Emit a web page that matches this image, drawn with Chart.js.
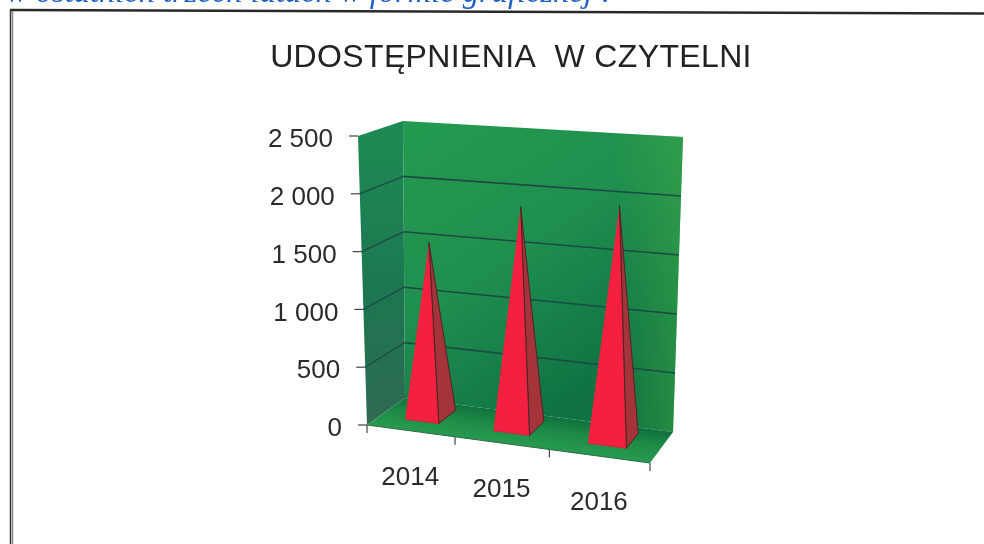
<!DOCTYPE html>
<html><head><meta charset="utf-8">
<style>
html,body{margin:0;padding:0;background:#fff;overflow:hidden}
#wrap{position:relative;width:984px;height:544px;overflow:hidden}
#note{position:absolute;left:6px;top:-27px;font:italic 32.5px "Liberation Serif",serif;color:#1f62c4;white-space:nowrap}
canvas{position:absolute;left:0;top:0}
</style>
<script src="https://cdn.jsdelivr.net/npm/chart.js@4/dist/chart.umd.min.js"></script>
</head><body>
<div id="wrap"><canvas id="c" width="984" height="544"></canvas><div id="note">w ostatnich trzech latach w formie graficznej :</div></div>
<script>
const chartTitle = 'UDOSTĘPNIENIA  W CZYTELNI';
const categories = ['2014', '2015', '2016'];
const udostepnienia = [1510, 1880, 1950];
const yTickLabels = ['0', '500', '1 000', '1 500', '2 000', '2 500'];

// 3D box outline used to project the flat scales onto the walls and the floor
const A=[367,425], B=[650,463], C=[673,432], D=[405,398];
const E=[358,136], H=[662,150], G=[683,137], F=[403,121];
const lerp=(p,q,t)=>[p[0]+(q[0]-p[0])*t,p[1]+(q[1]-p[1])*t];
const warp=u=>u+0.1*u*(u-1);
function P(u,v,d){
  const w=warp(u);
  const bot=lerp(lerp(A,B,w),lerp(D,C,w),d);
  const top=lerp(lerp(E,H,w),lerp(F,G,w),d);
  return lerp(bot,top,v);
}
const poly=(ctx,pts,fill,stroke,lw)=>{
  ctx.beginPath();pts.forEach((p,i)=>i?ctx.lineTo(p[0],p[1]):ctx.moveTo(p[0],p[1]));ctx.closePath();
  if(fill){ctx.fillStyle=fill;ctx.fill();}
  if(stroke){ctx.strokeStyle=stroke;ctx.lineWidth=lw||1;ctx.stroke();}
};
const line=(ctx,p,q,col,lw)=>{ctx.beginPath();ctx.moveTo(p[0],p[1]);ctx.lineTo(q[0],q[1]);ctx.strokeStyle=col;ctx.lineWidth=lw;ctx.stroke();};

let theChart=null;
const BASE_SHIFT=-0.002, D0=0.34, D1=0.82;
Chart.BarElement.prototype.draw=function(ctx){
  const a=theChart.chartArea, W=a.right-a.left, Hh=a.bottom-a.top;
  const uc=(this.x-a.left)/W+BASE_SHIFT, hw=this.width/2/W, v=(a.bottom-this.y)/Hh;
  const fl=P(uc-hw,0,D0), fr=P(uc+hw,0,D0), rr=P(uc+hw,0,D1), apex=P(uc,v,(D0+D1)/2);
  ctx.save();ctx.lineJoin='round';
  poly(ctx,[fr,rr,apex],'#a5333a','#4a2626',1);
  poly(ctx,[fl,fr,apex],'#f5203f',null);
  line(ctx,fr,apex,'#4a2626',1);
  line(ctx,fl,fr,'#c9283a',1);
  ctx.restore();
};

const scene={
  id:'scene',
  afterLayout(chart){
    const t=chart.titleBlock;
    t.left=38;t.right=984;
    if(!t._wrapped){
      const d=t.draw;
      t.draw=function(){const c=this.ctx;c.save();c.letterSpacing='0.35px';d.call(this);c.restore();};
      t._wrapped=true;
    }
  },
  beforeDraw(chart){
    theChart=chart;
    const ctx=chart.ctx, a=chart.chartArea, xs=chart.scales.x, ys=chart.scales.y;
    const uOf=px=>(px-a.left)/(a.right-a.left), vOf=py=>(a.bottom-py)/(a.bottom-a.top);
    // page frame
    line(ctx,[10,10],[984,13.5],'#2a2a2a',2.5);
    line(ctx,[10.5,10],[10.5,544],'#333',1.5);
    line(ctx,[12.5,11],[12.5,544],'#888',1.5);
    // walls
    let g=ctx.createLinearGradient(F[0],F[1],C[0]-60,C[1]);
    g.addColorStop(0,'#249a50');g.addColorStop(0.45,'#1f8f4e');g.addColorStop(0.85,'#0f7444');g.addColorStop(1,'#0f7040');
    poly(ctx,[F,G,C,D],g);
    g=ctx.createLinearGradient(G[0],G[1],G[0]-70,G[1]);
    g.addColorStop(0,'rgba(60,170,70,.55)');g.addColorStop(1,'rgba(60,170,70,0)');
    poly(ctx,[F,G,C,D],g);
    g=ctx.createLinearGradient(E[0],E[1],A[0],A[1]);
    g.addColorStop(0,'#1d8a54');g.addColorStop(0.55,'#1c7650');g.addColorStop(1,'#2f6a52');
    poly(ctx,[E,F,D,A],g);
    g=ctx.createLinearGradient(539,415,535,445);
    g.addColorStop(0,'#10703e');g.addColorStop(0.45,'#1c8a46');g.addColorStop(1,'#27994f');
    poly(ctx,[A,B,C,D],g);
    // value gridlines, axis ticks and labels from the scales
    const yItems=ys.getLabelItems(a);
    ys.ticks.forEach((t,i)=>{
      const v=vOf(ys.getPixelForValue(t.value));
      const f=P(0,v,0), b=P(0,v,1), r=P(1,v,1);
      if(v>0 && v<0.999){
        line(ctx,f,b,'#1d4f48',1.5);
        line(ctx,b,r,'#1c4a46',1.6);
      }
      line(ctx,[f[0]-9,f[1]],f,'#444',1.2);
      const it=yItems[i];
      if(it){it.textOffset=0;it.options.textAlign='right';it.options.textBaseline='middle';it.options.translation=[f[0]-25,f[1]+4];}
    });
    const xItems=xs.getLabelItems(a);
    const n=categories.length, step=1/n;
    for(let i=0;i<=n;i++){const p=P(i*step,0,0);line(ctx,p,[p[0],p[1]+8],'#444',1.2);}
    line(ctx,A,B,'#2a6a45',1);
    xs.ticks.forEach((t,i)=>{
      const p=P(uOf(xs.getPixelForTick(i)),0,0);
      const it=xItems[i];
      if(it){it.textOffset=0;it.options.textAlign='center';it.options.textBaseline='middle';it.options.translation=[p[0],p[1]+47];}
    });
  }
};

new Chart(document.getElementById('c'),{
  type:'bar',
  data:{labels:categories,datasets:[{label:'Udostępnienia',data:udostepnienia,clip:false,
    barPercentage:0.39,categoryPercentage:1,backgroundColor:'#f5203f'}]},
  options:{
    responsive:false,animation:false,
    layout:{padding:{left:0,right:334,top:0,bottom:0}},
    plugins:{
      legend:{display:false},tooltip:{enabled:false},
      title:{display:true,text:chartTitle,color:'#222',
        font:{family:'"Liberation Sans",Arial,sans-serif',size:32,weight:'normal'},
        padding:{top:39,bottom:59}}
    },
    scales:{
      x:{type:'category',offset:true,border:{display:false},grid:{display:false},
        ticks:{color:'#2b2b2b',maxRotation:0,minRotation:0,padding:0,font:{family:'"Liberation Sans",Arial,sans-serif',size:26}},
        afterFit(s){s.height=119;}},
      y:{type:'linear',min:0,max:2500,border:{display:false},grid:{display:false},
        ticks:{stepSize:500,color:'#2b2b2b',padding:0,font:{family:'"Liberation Sans",Arial,sans-serif',size:26},
          callback:(v,i)=>yTickLabels[i]},
        afterFit(s){s.width=367;}}
    }
  },
  plugins:[scene]
});
</script>
</body></html>
